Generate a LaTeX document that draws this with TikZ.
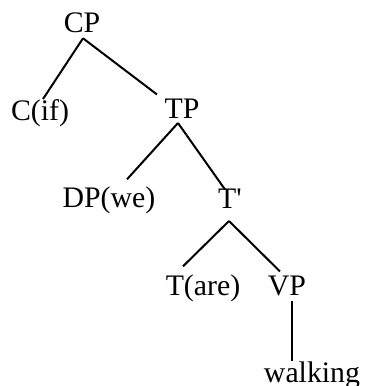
\documentclass[tikz,border=0pt]{standalone}
\usepackage{fontspec}
\setmainfont{Liberation Serif}
\begin{document}
\begin{tikzpicture}[x=0.5pt,y=-0.5pt,line width=1pt,
  lbl/.style={anchor=base,inner sep=1pt,font=\fontsize{14.9}{17}\selectfont}]
\useasboundingbox (0,0) rectangle (365,386);
% labels, placed on their baselines
\node[lbl](cp)at(82,32){CP};
\node[lbl](cif)at(40,120){C(if)};
\node[lbl](tp)at(182,118){TP};
\node[lbl](dp)at(109,207){DP(we)};
\node[lbl](tbar)at(230,208){T\textquotesingle};
\node[lbl](tare)at(203,295){T(are)};
\node[lbl](vp)at(287,295){VP};
\node[lbl](walk)at(312,382){walking};
% branches
\draw([shift={(1,3)}]cp.south)--([shift={(3,3)}]cif.north);
\draw([shift={(1,3)}]cp.south)--([shift={(-25,-1)}]tp.north);
\draw([shift={(-4,2)}]tp.south)--([shift={(18,-4)}]dp.north);
\draw([shift={(-4,2)}]tp.south)--([shift={(-5,4)}]tbar.north);
\draw([shift={(-1,10)}]tbar.south)--([shift={(-20,-5)}]tare.north);
\draw([shift={(-1,10)}]tbar.south)--([shift={(-7,-1)}]vp.north);
\draw([shift={(5,3)}]vp.south)--([shift={(5,3)}]vp.south|-walk.north);
\end{tikzpicture}
\end{document}
